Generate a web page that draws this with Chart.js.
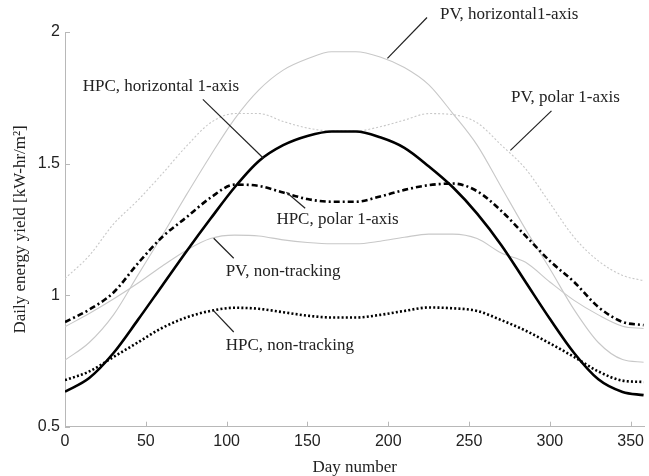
<!DOCTYPE html>
<html>
<head>
<meta charset="utf-8">
<script src="https://cdn.jsdelivr.net/npm/chart.js@4.4.1/dist/chart.umd.min.js"></script>
<style>
  html, body { margin: 0; padding: 0; background: #fff; }
</style>
</head>
<body>
<canvas id="chart" width="649" height="476"></canvas>
<script>
const days = [0, 15, 30, 45, 60, 75, 90, 105, 120, 135, 150, 165, 180, 195, 210, 225, 240, 255, 270, 285, 300, 315, 330, 345, 358];

// daily energy yield, kW-hr/m2
const hpcHorizontal = [0.633, 0.685, 0.78, 0.905, 1.035, 1.165, 1.29, 1.41, 1.51, 1.57, 1.605, 1.622, 1.622, 1.60, 1.56, 1.49, 1.41, 1.31, 1.19, 1.05, 0.91, 0.78, 0.68, 0.632, 0.62];
const hpcPolar = [0.898, 0.945, 1.01, 1.12, 1.22, 1.295, 1.37, 1.42, 1.415, 1.39, 1.365, 1.355, 1.355, 1.375, 1.40, 1.418, 1.424, 1.395, 1.32, 1.225, 1.13, 1.05, 0.955, 0.898, 0.886];
const hpcNonTracking = [0.677, 0.71, 0.765, 0.82, 0.875, 0.915, 0.94, 0.952, 0.948, 0.935, 0.922, 0.915, 0.915, 0.925, 0.94, 0.953, 0.95, 0.94, 0.905, 0.865, 0.817, 0.765, 0.71, 0.675, 0.67];
const pvHorizontal = [0.753, 0.82, 0.925, 1.075, 1.225, 1.38, 1.53, 1.67, 1.78, 1.855, 1.898, 1.925, 1.925, 1.905, 1.865, 1.80, 1.69, 1.57, 1.41, 1.25, 1.10, 0.945, 0.82, 0.755, 0.745];
const pvPolar = [1.063, 1.15, 1.27, 1.36, 1.46, 1.565, 1.655, 1.69, 1.69, 1.66, 1.635, 1.624, 1.624, 1.64, 1.665, 1.69, 1.686, 1.655, 1.57, 1.48, 1.35, 1.22, 1.13, 1.075, 1.055];
const pvNonTracking = [0.88, 0.93, 0.985, 1.045, 1.11, 1.17, 1.215, 1.228, 1.225, 1.21, 1.20, 1.195, 1.195, 1.205, 1.22, 1.232, 1.232, 1.215, 1.16, 1.125, 1.05, 0.98, 0.925, 0.882, 0.873];

const xTicks = [0, 50, 100, 150, 200, 250, 300, 350];
const yTicks = [0.5, 1, 1.5, 2];
const yTickLabels = ["0.5", "1", "1.5", "2"];

// curve labels with their leader lines, in data units
const notes = [
  { text: "PV, horizontal1-axis", at: [232, 2.067], from: [224, 2.055], to: [199.5, 1.90] },
  { text: "PV, polar 1-axis", at: [276, 1.752], from: [301, 1.70], to: [275.6, 1.55] },
  { text: "HPC, horizontal 1-axis", at: [11, 1.793], from: [85.3, 1.744], to: [122.8, 1.52] },
  { text: "HPC, polar 1-axis", at: [130.8, 1.288], from: [137, 1.391], to: [148.6, 1.33] },
  { text: "PV, non-tracking", at: [99.4, 1.091], from: [92, 1.216], to: [104.4, 1.14] },
  { text: "HPC, non-tracking", at: [99.4, 0.81], from: [92, 0.94], to: [104.4, 0.86] }
];

function toPoints(values) {
  return values.map((v, i) => ({ x: days[i], y: v }));
}

/**************************************
 *   TICKS INWARD + CURVE LABELS
 **************************************/
const axisExtras = {
  id: "axisExtras",
  afterDraw(chart) {
    const { ctx, chartArea } = chart;
    const x = chart.scales.x;
    const y = chart.scales.y;
    ctx.save();
    ctx.strokeStyle = "#b8b8b8";
    ctx.lineWidth = 1;
    ctx.beginPath();
    xTicks.forEach(v => {
      const px = Math.round(x.getPixelForValue(v)) + 0.5;
      ctx.moveTo(px, chartArea.bottom);
      ctx.lineTo(px, chartArea.bottom - 5);
    });
    yTicks.forEach(v => {
      const py = Math.round(y.getPixelForValue(v)) + 0.5;
      ctx.moveTo(chartArea.left, py);
      ctx.lineTo(chartArea.left + 5, py);
    });
    ctx.stroke();

    ctx.strokeStyle = "#222";
    ctx.lineWidth = 1.2;
    ctx.fillStyle = "#222";
    ctx.font = "17px 'Liberation Serif'";
    ctx.textBaseline = "middle";
    ctx.textAlign = "left";
    notes.forEach(n => {
      ctx.beginPath();
      ctx.moveTo(x.getPixelForValue(n.from[0]), y.getPixelForValue(n.from[1]));
      ctx.lineTo(x.getPixelForValue(n.to[0]), y.getPixelForValue(n.to[1]));
      ctx.stroke();
      ctx.fillText(n.text, x.getPixelForValue(n.at[0]), y.getPixelForValue(n.at[1]));
    });
    ctx.restore();
  }
};

const lineBase = { pointRadius: 0, cubicInterpolationMode: "monotone", fill: false };

new Chart(document.getElementById("chart"), {
  type: "line",
  data: {
    datasets: [
      { ...lineBase, label: "HPC, horizontal 1-axis", data: toPoints(hpcHorizontal), borderColor: "#000", borderWidth: 2.6 },
      { ...lineBase, label: "HPC, polar 1-axis", data: toPoints(hpcPolar), borderColor: "#000", borderWidth: 2.6, borderDash: [6, 3, 2, 3] },
      { ...lineBase, label: "HPC, non-tracking", data: toPoints(hpcNonTracking), borderColor: "#000", borderWidth: 2.6, borderDash: [2, 2.2] },
      { ...lineBase, label: "PV, horizontal 1-axis", data: toPoints(pvHorizontal), borderColor: "#c8c8c8", borderWidth: 1.1 },
      { ...lineBase, label: "PV, polar 1-axis", data: toPoints(pvPolar), borderColor: "#c8c8c8", borderWidth: 1.1, borderDash: [2, 2] },
      { ...lineBase, label: "PV, non-tracking", data: toPoints(pvNonTracking), borderColor: "#c8c8c8", borderWidth: 1.1 }
    ]
  },
  options: {
    responsive: false,
    animation: false,
    devicePixelRatio: 1,
    layout: { padding: { top: 32, right: 0, left: 0, bottom: 0 } },
    plugins: { legend: { display: false }, tooltip: { enabled: false } },
    scales: {
      x: {
        type: "linear",
        min: 0,
        max: 358.5,
        afterBuildTicks: s => { s.ticks = xTicks.map(v => ({ value: v })); },
        afterFit: s => { s.height = 49.3; },
        grid: { display: false, drawTicks: false },
        border: { display: true, color: "#b8b8b8", width: 1 },
        ticks: { color: "#222", font: { family: "'Liberation Sans'", size: 16 }, padding: 5, maxRotation: 0 },
        title: { display: true, text: "Day number", color: "#222", font: { family: "'Liberation Serif'", size: 17, lineHeight: 1 }, padding: 0 }
      },
      y: {
        type: "linear",
        min: 0.5,
        max: 2,
        afterBuildTicks: s => { s.ticks = yTicks.map(v => ({ value: v })); },
        afterFit: s => { s.width = 65; },
        grid: { display: false, drawTicks: false },
        border: { display: true, color: "#b8b8b8", width: 1 },
        ticks: {
          color: "#222",
          font: { family: "'Liberation Sans'", size: 16 },
          padding: 5,
          callback: v => yTickLabels[yTicks.indexOf(v)]
        },
        title: { display: true, text: "Daily energy yield [kW-hr/m²]", color: "#222", font: { family: "'Liberation Serif'", size: 17, lineHeight: 1 }, padding: { top: 12, bottom: 0 } }
      }
    }
  },
  plugins: [axisExtras]
});
</script>
</body>
</html>
